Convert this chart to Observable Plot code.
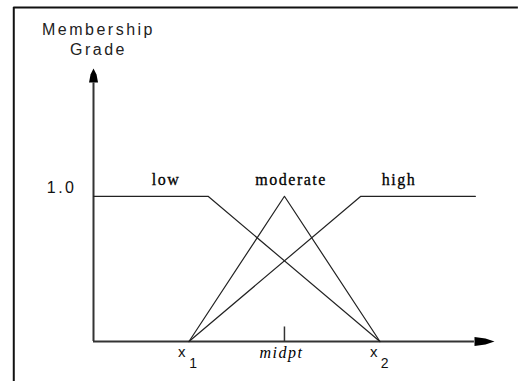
<!DOCTYPE html>
<html>
<head>
<meta charset="utf-8">
<script src="https://cdn.jsdelivr.net/npm/d3@7"></script>
<script src="https://cdn.jsdelivr.net/npm/@observablehq/plot@0.6"></script>
<style>
  html, body { margin: 0; padding: 0; background: #fff; overflow: hidden; }
  #chart { width: 521px; height: 381px; overflow: hidden; }
  g[font-family="Liberation Sans, Arial, sans-serif"] text { letter-spacing: 2.5px; }
  g[font-family="Liberation Serif, Times New Roman, serif"] text { letter-spacing: 1.5px; }
</style>
</head>
<body>
<div id="chart"></div>
<script>
// membership functions (x in abstract units: x1 = 1, midpt = 2, x2 = 3)
const lowX = [0, 1.2, 3];
const lowY = [1, 1, 0];
const moderateX = [1, 2, 3];
const moderateY = [0, 1, 0];
const highX = [1, 2.8, 4.0];
const highY = [0, 1, 1];

// set labels and their positions
const setNames = ["low", "moderate", "high"];
const setLabelX = [0.76, 2.07, 3.2];

// x-axis tick labels
const tickNames = ["x", "midpt", "x"];
const tickSubs = ["1", "", "2"];
const tickX = [1, 2, 3];
const subDx = [5.5, 0, 6];
const nameDx = [-6, -3, -5];

// y-axis
const yTickLabel = "1.0";
const yTickValue = 1;
const yTitle = ["Membership", "Grade"];
const yTitleY = [2.147, 2.009];

const xMax = 4.2, yMax = 1.88;
const xAxisEnd = 3.99, yAxisEnd = 1.78, midTickLen = 0.1;
// surrounding picture frame (only top and left edges are visible)
const frameLeft = -0.835, frameTop = 2.3, frameRight = 4.45;

const toPts = (xs, ys, name) => xs.map((x, i) => ({x, y: ys[i], name}));
const curves = [
  ...toPts(lowX, lowY, "low"),
  ...toPts(moderateX, moderateY, "moderate"),
  ...toPts(highX, highY, "high")
];

const arrowRight = { draw(ctx) { ctx.moveTo(0, 0); ctx.lineTo(-9, -3); ctx.lineTo(-20, -4.5); ctx.lineTo(-20, 4.5); ctx.lineTo(-9, 3); ctx.closePath(); } };
const arrowUp = { draw(ctx) { ctx.moveTo(0, 0); ctx.lineTo(3, 6); ctx.lineTo(4.5, 14); ctx.lineTo(-4.5, 14); ctx.lineTo(-3, 6); ctx.closePath(); } };

const sans = "Liberation Sans, Arial, sans-serif";
const serif = "Liberation Serif, Times New Roman, serif";

const chart = Plot.plot({
  width: 521, height: 381,
  marginLeft: 93, marginRight: 27, marginTop: 68, marginBottom: 40,
  x: {domain: [0, xMax], axis: null},
  y: {domain: [0, yMax], axis: null},
  style: {background: "#fff", overflow: "hidden"},
  marks: [
    Plot.ruleY([frameTop], {x1: frameLeft, x2: frameRight, stroke: "#111", strokeWidth: 2}),
    Plot.ruleX([frameLeft], {y1: -1, y2: frameTop, stroke: "#111", strokeWidth: 2}),
    Plot.ruleX([0], {y1: 0, y2: yAxisEnd, stroke: "#333", strokeWidth: 2}),
    Plot.ruleY([0], {x1: 0, x2: xAxisEnd, stroke: "#333", strokeWidth: 2}),
    Plot.dot([{x: xMax, y: 0}], {x: "x", y: "y", symbol: arrowRight, fill: "#000", stroke: "none", r: 5}),
    Plot.dot([{x: 0, y: yMax}], {x: "x", y: "y", symbol: arrowUp, fill: "#000", stroke: "none", r: 5}),
    Plot.ruleX([tickX[1]], {y1: 0, y2: midTickLen, stroke: "#333", strokeWidth: 1.5}),
    Plot.line(curves, {x: "x", y: "y", z: "name", stroke: "#222", strokeWidth: 1.2}),
    Plot.text(setNames.map((n, i) => ({n, x: setLabelX[i]})), {x: "x", y: () => 1, text: "n", dy: -16, fontSize: 16, fontFamily: serif, fill: "#000", stroke: "#000", strokeWidth: 0.3}),
    Plot.text([yTickLabel], {x: () => 0, y: () => yTickValue, text: d => d, textAnchor: "end", dx: -17, dy: -8, fontSize: 16, fontFamily: sans, fill: "#111"}),
    Plot.text(yTitle.map((t, i) => ({t, y: yTitleY[i]})), {x: () => 0, y: "y", text: "t", dx: 5, fontSize: 16, fontFamily: sans, fill: "#222"}),
    Plot.text(tickNames.map((t, i) => ({t, x: tickX[i]})).filter(d => d.t === "x"), {x: "x", y: () => 0, text: "t", dy: 11, fontSize: 15, fontFamily: sans, fill: "#111"}),
    Plot.text(tickNames.map((t, i) => ({t, x: tickX[i]})).filter(d => d.t !== "x"), {x: "x", y: () => 0, text: "t", dx: -3, dy: 11, fontSize: 16, fontFamily: serif, fontStyle: "italic", fill: "#000"}),
    Plot.text(tickSubs.map((t, i) => ({t, x: tickX[i]})).filter(d => d.t !== ""), {x: "x", y: () => 0, text: "t", dy: 22, fontSize: 14, fontFamily: sans, fill: "#111"})
  ]
});
document.getElementById("chart").appendChild(chart);

// shift x-labels and subscripts horizontally by their per-label offsets
const groups = chart.querySelectorAll('g[aria-label="text"]');
const xG = groups[3], subG = groups[5];
const xIdx = tickNames.map((t, i) => i).filter(i => tickNames[i] === "x");
xG.querySelectorAll("text").forEach((el, k) => el.setAttribute("dx", nameDx[xIdx[k]]));
const sIdx = tickSubs.map((t, i) => i).filter(i => tickSubs[i] !== "");
subG.querySelectorAll("text").forEach((el, k) => el.setAttribute("dx", subDx[sIdx[k]]));
</script>
</body>
</html>
